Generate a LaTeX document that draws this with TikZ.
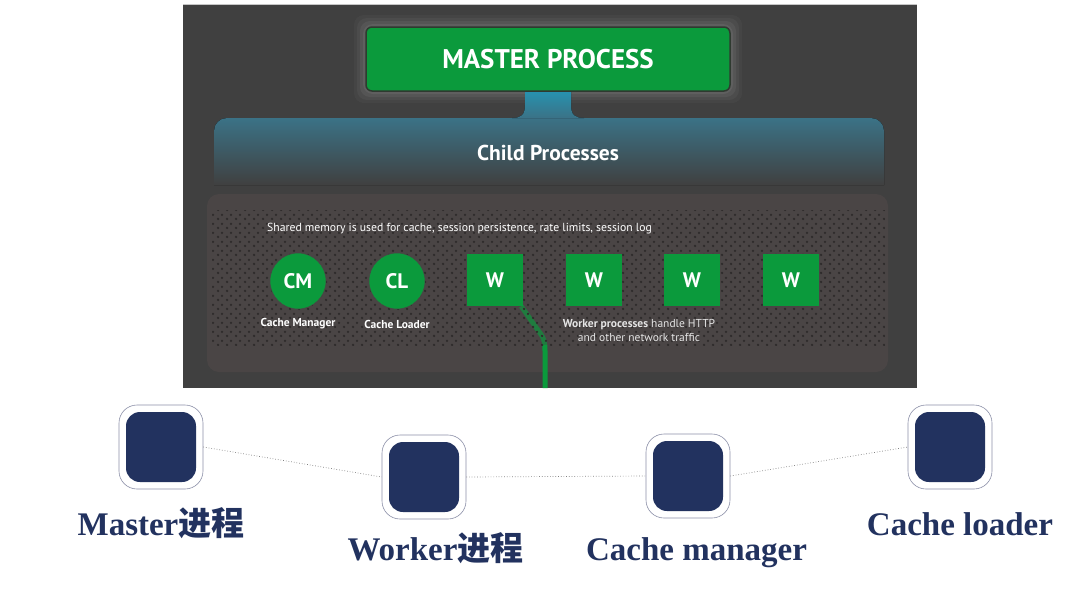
\documentclass[tikz,border=0pt]{standalone}
\usepackage{fontspec}
\setmainfont{Liberation Serif}
\newfontfamily\uisans{PT Sans}
\newfontfamily\cjk{Noto Sans CJK SC}
\usetikzlibrary{patterns}
\pgfdeclarepatternformonly{hexdots}{\pgfpointorigin}{\pgfpoint{9pt}{9pt}}{\pgfpoint{9pt}{9pt}}{%
  \pgfpathcircle{\pgfpoint{2.25pt}{2.25pt}}{1.4pt}%
  \pgfpathcircle{\pgfpoint{6.75pt}{6.75pt}}{1.4pt}%
  \pgfusepath{fill}}
\pgfdeclarelayer{bg}
\pgfdeclarelayer{mid}
\pgfsetlayers{bg,mid,main}
\definecolor{panel}{HTML}{404040}
\definecolor{innerc}{HTML}{4A4545}
\definecolor{dotc}{HTML}{2E2B2B}
\definecolor{gr}{HTML}{0B9A3C}
\definecolor{navy}{HTML}{22325F}
\definecolor{bandtop}{HTML}{3B7286}
\definecolor{stemtop}{HTML}{2595B3}
\definecolor{outl}{HTML}{8C90A8}
\definecolor{mpborder}{HTML}{2F3A30}
\begin{document}
\begin{tikzpicture}[x=1pt,y=-1pt,
  mp/.style={rectangle, rounded corners=6pt, fill=gr, draw=mpborder, line width=1.5pt,
    minimum width=364pt, minimum height=64pt, text=white,
    font=\uisans\bfseries\fontsize{27}{27}\selectfont},
  childtxt/.style={text=white, font=\uisans\bfseries\fontsize{21.5}{22}\selectfont},
  cproc/.style={circle, fill=gr, draw=innerc, line width=0.5pt, minimum size=56pt, inner sep=0pt,
    text=white, font=\uisans\bfseries\fontsize{21}{21}\selectfont},
  wproc/.style={rectangle, fill=gr, minimum width=56pt, minimum height=52pt, inner sep=0pt,
    text=white, font=\uisans\bfseries\fontsize{21}{21}\selectfont},
  smalltxt/.style={text=white, font=\uisans\fontsize{11.7}{13}\selectfont, inner sep=0pt},
  caplbl/.style={text=white, font=\uisans\bfseries\fontsize{11.5}{13}\selectfont, inner sep=0pt},
  desc/.style={text=white!90!black, font=\uisans\fontsize{11.5}{13.5}\selectfont, inner sep=0pt, align=center},
  wline/.style={draw=gr, line width=5pt},
  outerbox/.style={rectangle, rounded corners=18pt, draw=outl, line width=0.6pt, fill=white,
    minimum size=84pt, inner sep=0pt},
  innerbox/.style={rectangle, rounded corners=14pt, fill=navy, minimum size=70pt, inner sep=0pt},
  dotline/.style={draw=gray, line width=0.7pt, dotted},
  lbl/.style={text=navy, font=\bfseries\fontsize{33}{33}\selectfont, inner sep=0pt, anchor=base}
]
\useasboundingbox (0,0) rectangle (1080,590);
\begin{pgfonlayer}{bg}
\fill[white] (0,0) rectangle (1080,590);
\fill[panel] (183,4) rectangle (917,388);
\draw[white!70!panel, line width=0.5pt] (183,4) -- (917,4);
% glow around master process
\foreach \g/\o in {12/0.03,9/0.04,6/0.05,3/0.06}
  \fill[white, opacity=\o, rounded corners=10pt] (366-\g,27-\g) rectangle (730+\g,91+\g);
% child processes band
\fill[top color=bandtop, bottom color=panel] (214,185) {[rounded corners=13pt] -- (214,118) -- (884,118)} -- (884,185) -- cycle;
% stem
\fill[top color=stemtop, bottom color=bandtop] (525,89) -- (525,105)
  .. controls (525,115) and (521,118) .. (512,118) -- (584,118)
  .. controls (575,118) and (571,115) .. (571,105) -- (571,89) -- cycle;
% inner box
\fill[innerc, rounded corners=12pt] (207,194) rectangle (888,372);
\end{pgfonlayer}

% top diagram nodes
\node[mp] (master) at (548,59) {MASTER PROCESS};
\node[childtxt] (child) at (548,153) {Child Processes};
\node[smalltxt, anchor=west] (shared) at (267,229) {Shared memory is used for cache, session persistence, rate limits, session log};
\node[cproc] (cm) at (298,281) {CM};
\node[cproc] (cl) at (397,281) {CL};
\node[wproc] (w1) at (495,280) {W};
\node[wproc] (w2) at (594,280) {W};
\node[wproc] (w3) at (692,280) {W};
\node[wproc] (w4) at (791,280) {W};
\node[caplbl] (cmlbl) at (298,324) {Cache Manager};
\node[caplbl] (cllbl) at (397,324) {Cache Loader};
\node[desc] (wdesc) at (639,330.5) {{\bfseries Worker processes} handle HTTP\\and other network traffic};
\coordinate (gend) at (545,388);

\begin{pgfonlayer}{mid}
\draw[wline] ([xshift=-2pt]w1.south east) -- (540,333) .. controls (545,340) and (545,343) .. (545,352) -- (gend);
\fill[innerc, opacity=0.35] (212,210) rectangle (885,345);
\fill[pattern=hexdots, pattern color=dotc] (212,210) rectangle (885,345);
\end{pgfonlayer}

% bottom nodes
\node[outerbox] (mst) at (161,447) {};
\node[innerbox] (msti) at (mst.center) {};
\node[outerbox] (wrk) at (424,477) {};
\node[innerbox] (wrki) at (wrk.center) {};
\node[outerbox] (cmg) at (688,476) {};
\node[innerbox] (cmgi) at (cmg.center) {};
\node[outerbox] (cld) at (950,447) {};
\node[innerbox] (cldi) at (cld.center) {};

\draw[dotline] (mst.east) -- (wrk.west);
\draw[dotline] (wrk.east) -- (cmg.west);
\draw[dotline] (cmg.east) -- (cld.west);

\node[lbl] (lm) at (161,535) {Master{\cjk\bfseries 进程}};
\node[lbl] (lw) at (435.5,560) {Worker{\cjk\bfseries 进程}};
\node[lbl] (lcm) at (696.5,560) {Cache manager};
\node[lbl] (lcl) at (960,535) {Cache loader};
\end{tikzpicture}
\end{document}
